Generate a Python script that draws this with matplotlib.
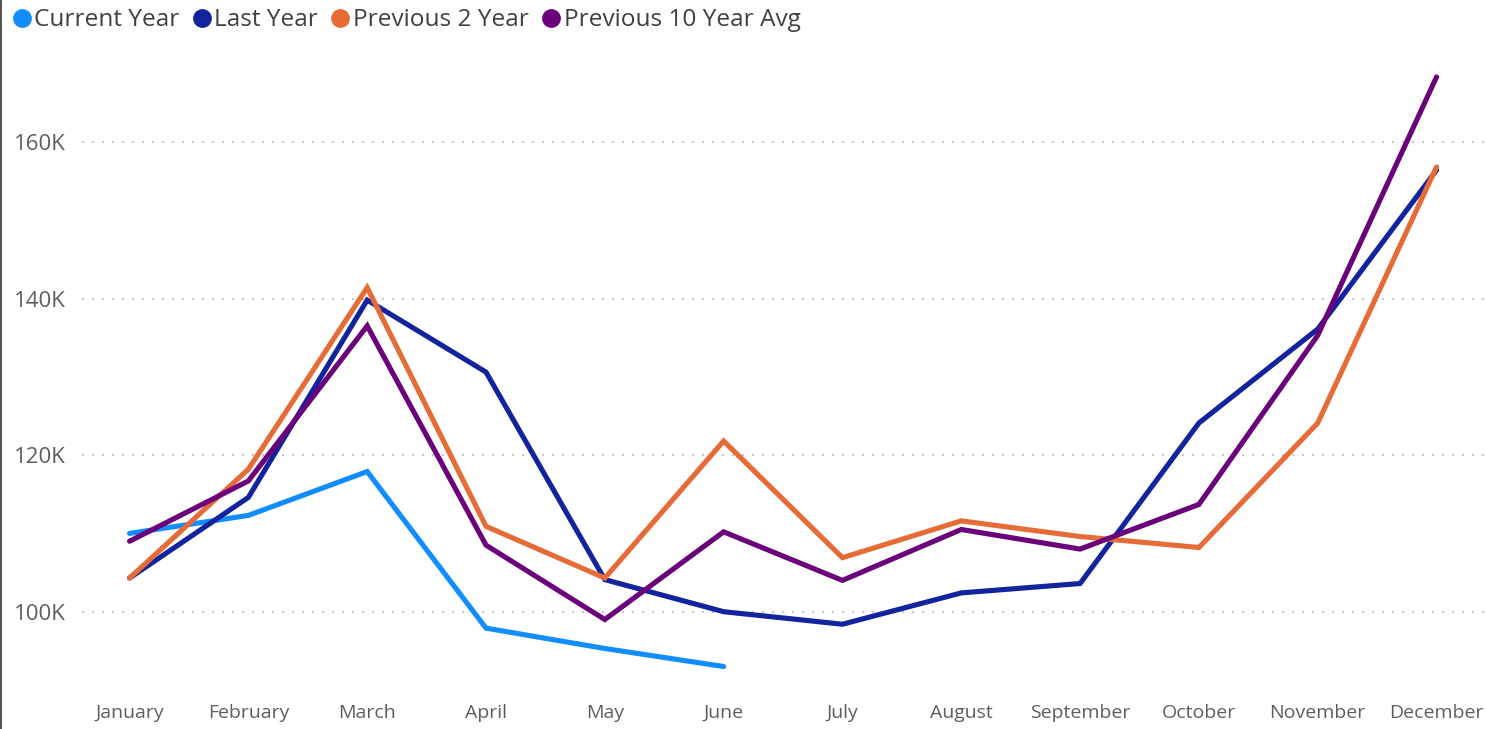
import matplotlib
import matplotlib.pyplot as plt
from matplotlib.lines import Line2D
from matplotlib.ticker import FuncFormatter

matplotlib.use('agg')

months = ['January', 'February', 'March', 'April', 'May', 'June', 'July',
          'August', 'September', 'October', 'November', 'December']

# values in thousands
current_year = [110.0, 112.3, 117.9, 97.9, 95.3, 93.0]
last_year = [104.3, 114.6, 139.8, 130.6, 104.1, 100.0, 98.4, 102.4, 103.6, 124.1, 136.1, 156.4]
previous_2_year = [104.3, 118.2, 141.4, 110.9, 104.3, 121.8, 106.9, 111.6, 109.6, 108.2, 124.1, 156.8]
previous_10_avg = [109.0, 116.7, 136.5, 108.5, 99.0, 110.2, 104.0, 110.5, 108.0, 113.7, 135.3, 168.3]

y_ticks = [100, 120, 140, 160]

series = [
    ('Current Year', current_year, '#118DFF'),
    ('Last Year', last_year, '#12239E'),
    ('Previous 2 Year', previous_2_year, '#E66C37'),
    ('Previous 10 Year Avg', previous_10_avg, '#6B007B'),
]

plt.rcParams['font.family'] = ['Open Sans', 'DejaVu Sans']

fig = plt.figure(figsize=(14.86, 7.29), dpi=100)
ax = fig.add_axes([0.0552, 0.0535, 0.9435, 0.8807])

handles = []
for name, values, color in series:
    x = list(range(len(values)))
    ax.plot(x, [v * 1000 for v in values], color=color, linewidth=3.7,
            solid_capstyle='round', solid_joinstyle='miter', zorder=3)
    handles.append(Line2D([], [], linestyle='none', marker='o', markersize=12.5,
                          markerfacecolor=color, markeredgecolor=color, label=name))

ax.set_xlim(-0.4, 11.4)
ax.set_ylim(90000, 172000)
ax.set_xticks(range(len(months)))
ax.set_xticklabels(months)
ax.set_yticks([t * 1000 for t in y_ticks])
ax.yaxis.set_major_formatter(FuncFormatter(lambda v, _: f'{int(v / 1000)}K'))

ax.grid(axis='y', color='#C8C8C8', linewidth=1.5, linestyle=(0, (1, 3.8)))
ax.set_axisbelow(True)
for s in ax.spines.values():
    s.set_visible(False)
ax.tick_params(axis='both', length=0, colors='#605E5C')
ax.tick_params(axis='x', labelsize=14, pad=10)
ax.tick_params(axis='y', labelsize=16, pad=12)

fig.legend(handles=handles, loc='upper left', bbox_to_anchor=(-0.0035, 1.012), ncol=4,
           frameon=False, fontsize=17.6, handlelength=0.8, handletextpad=0.12,
           columnspacing=0.5, borderpad=0.2, labelcolor='#404040')

# thin dark border on the left edge of the visual
fig.add_artist(Line2D([0.0007, 0.0007], [0, 1], color='#333333', linewidth=1.2,
                      transform=fig.transFigure))

fig.savefig('out.png', dpi=100)
